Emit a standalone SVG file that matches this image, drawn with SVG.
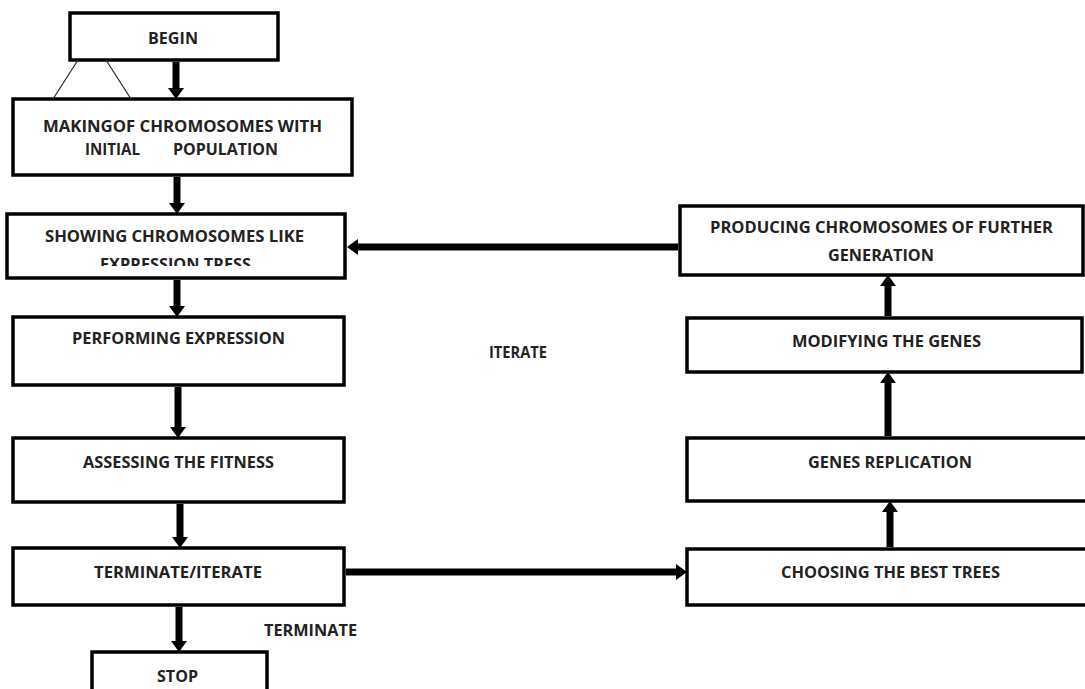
<svg xmlns="http://www.w3.org/2000/svg" width="1085" height="689" viewBox="0 0 1085 689">
<style>
.box{fill:#fff;stroke:#000;stroke-width:3.5}
.t{font-family:"Open Sans","Liberation Sans",sans-serif;font-weight:bold;font-size:15.5px;fill:#222}
.c{stroke:#000;stroke-width:7;fill:none;marker-end:url(#ah)}
.thin{stroke:#333;stroke-width:1.3;fill:none}
</style>
<defs>
<marker id="ah" markerUnits="userSpaceOnUse" markerWidth="12" markerHeight="16" refX="5" refY="8" orient="auto" viewBox="0 0 12 16">
<path d="M0,0 L11,8 L0,16 z" fill="#000"/>
</marker>
<clipPath id="clipShow"><rect x="0" y="214" width="350" height="52"/></clipPath>
</defs>
<rect width="1085" height="689" fill="#fff"/>

<g id="n-begin">
<rect class="box" x="70" y="13" width="208" height="47"/>
<text class="t" x="148" y="44" textLength="50" lengthAdjust="spacingAndGlyphs">BEGIN</text>
</g>
<g id="n-making">
<rect class="box" x="13" y="99" width="339" height="76"/>
<text class="t" x="43" y="132" textLength="279" lengthAdjust="spacingAndGlyphs">MAKINGOF CHROMOSOMES WITH</text>
<text class="t" x="85" y="155" textLength="55" lengthAdjust="spacingAndGlyphs">INITIAL</text>
<text class="t" x="173" y="155" textLength="105" lengthAdjust="spacingAndGlyphs">POPULATION</text>
</g>
<g id="n-showing">
<rect class="box" x="7" y="214" width="338" height="64"/>
<text class="t" x="45" y="242" textLength="259" lengthAdjust="spacingAndGlyphs">SHOWING CHROMOSOMES LIKE</text>
<text class="t" x="100" y="270" textLength="151" lengthAdjust="spacingAndGlyphs" clip-path="url(#clipShow)">EXPRESSION TRESS</text>
</g>
<g id="n-performing">
<rect class="box" x="13" y="317" width="331" height="68"/>
<text class="t" x="72" y="344" textLength="213" lengthAdjust="spacingAndGlyphs">PERFORMING EXPRESSION</text>
</g>
<g id="n-assessing">
<rect class="box" x="13" y="438" width="331" height="64"/>
<text class="t" x="83" y="468" textLength="191" lengthAdjust="spacingAndGlyphs">ASSESSING THE FITNESS</text>
</g>
<g id="n-termiter">
<rect class="box" x="13" y="548" width="331" height="57"/>
<text class="t" x="94" y="578" textLength="168" lengthAdjust="spacingAndGlyphs">TERMINATE/ITERATE</text>
</g>
<g id="n-stop">
<rect class="box" x="92" y="652" width="175" height="60"/>
<text class="t" x="157" y="682" textLength="41" lengthAdjust="spacingAndGlyphs">STOP</text>
</g>
<g id="n-producing">
<rect class="box" x="680" y="206" width="403" height="69"/>
<text class="t" x="710" y="233" textLength="343" lengthAdjust="spacingAndGlyphs">PRODUCING CHROMOSOMES OF FURTHER</text>
<text class="t" x="828" y="261" textLength="106" lengthAdjust="spacingAndGlyphs">GENERATION</text>
</g>
<g id="n-modifying">
<rect class="box" x="687" y="318" width="395" height="54"/>
<text class="t" x="792" y="347" textLength="189" lengthAdjust="spacingAndGlyphs">MODIFYING THE GENES</text>
</g>
<g id="n-genes">
<rect class="box" x="687" y="438" width="420" height="63"/>
<text class="t" x="808" y="468" textLength="164" lengthAdjust="spacingAndGlyphs">GENES REPLICATION</text>
</g>
<g id="n-choosing">
<rect class="box" x="687" y="549" width="420" height="56"/>
<text class="t" x="781" y="578" textLength="219" lengthAdjust="spacingAndGlyphs">CHOOSING THE BEST TREES</text>
</g>

<g id="labels">
<text class="t" x="489" y="358" textLength="58" lengthAdjust="spacingAndGlyphs">ITERATE</text>
<text class="t" x="264" y="636" textLength="93" lengthAdjust="spacingAndGlyphs">TERMINATE</text>
</g>

<g id="connectors">
<line class="thin" x1="78" y1="60" x2="53" y2="99"/>
<line class="thin" x1="106" y1="60" x2="131" y2="99"/>
<line class="c" x1="176" y1="62" x2="176" y2="93"/>
<line class="c" x1="177" y1="177" x2="177" y2="208"/>
<line class="c" x1="177" y1="280" x2="177" y2="311"/>
<line class="c" x1="178" y1="387" x2="178" y2="432"/>
<line class="c" x1="180" y1="504" x2="180" y2="542"/>
<line class="c" x1="179" y1="607" x2="179" y2="646"/>
<line class="c" x1="346" y1="572" x2="681" y2="572"/>
<line class="c" x1="890" y1="547" x2="890" y2="507"/>
<line class="c" x1="888" y1="436" x2="888" y2="378"/>
<line class="c" x1="888" y1="316" x2="888" y2="281"/>
<line class="c" x1="678" y1="247" x2="353" y2="247"/>
</g>
</svg>
